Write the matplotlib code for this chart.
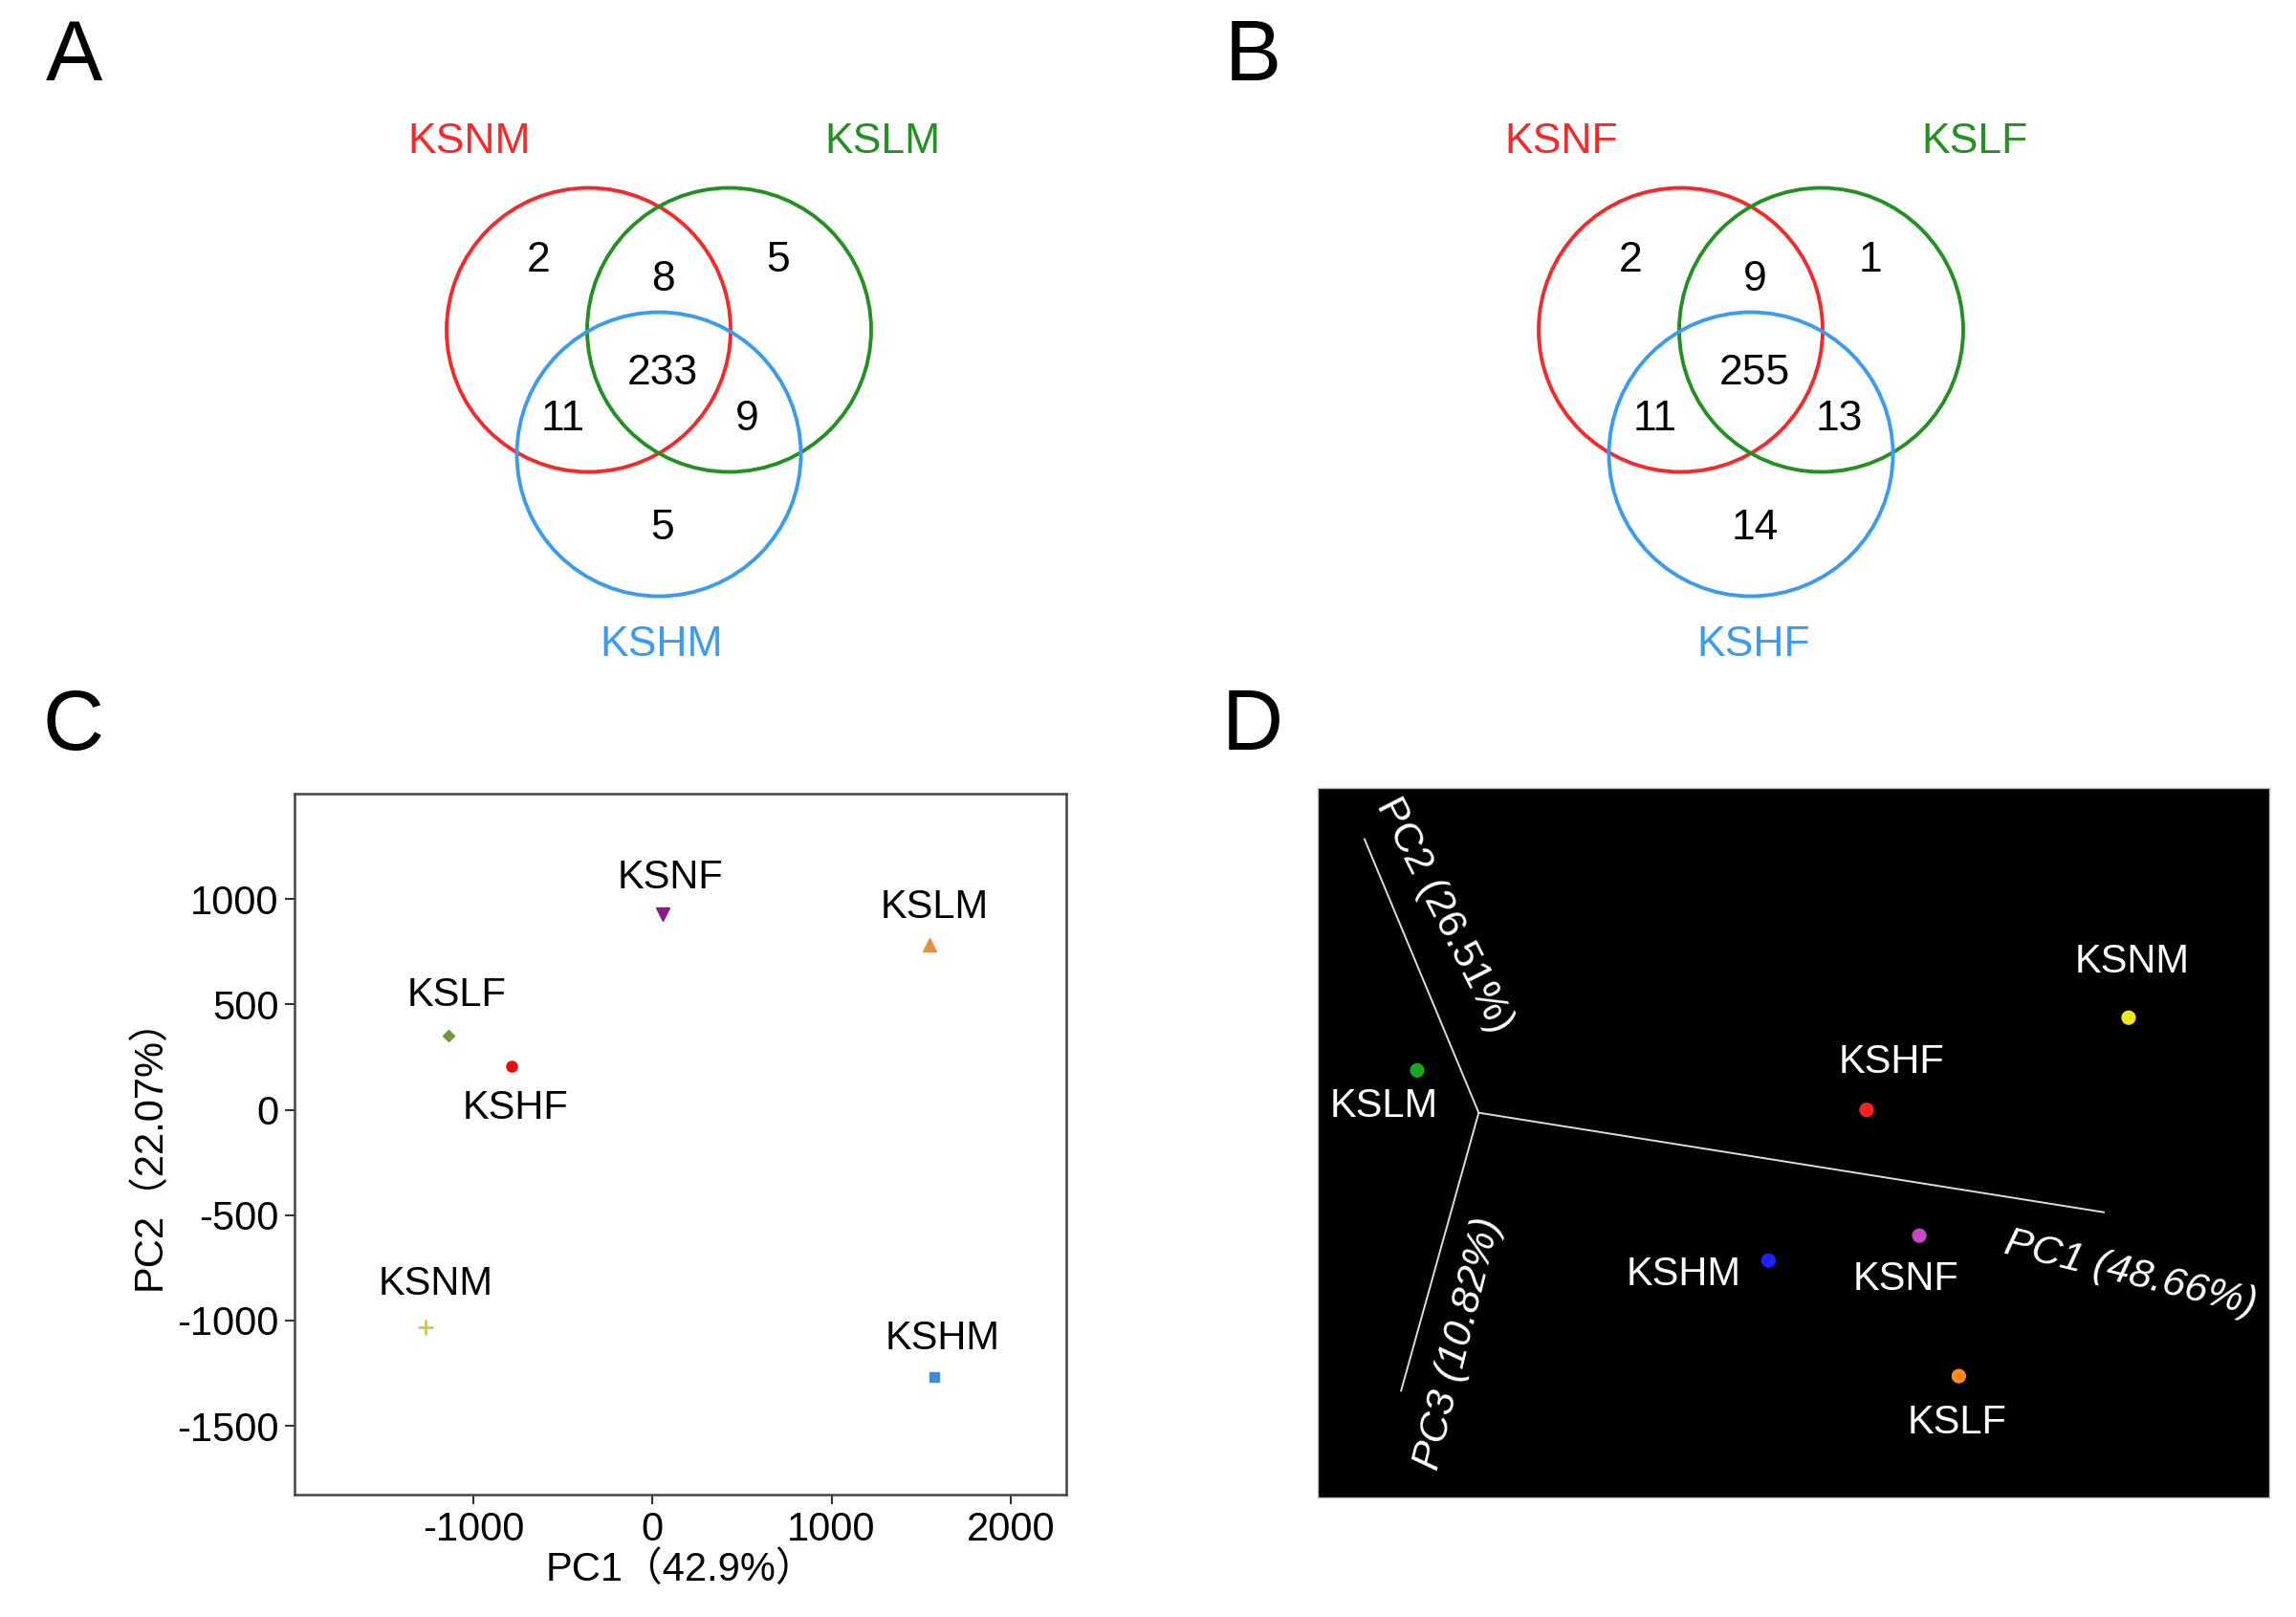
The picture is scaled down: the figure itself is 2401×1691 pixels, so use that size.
import numpy as np
import matplotlib
matplotlib.use('Agg')
from matplotlib import pyplot as plt
from matplotlib.patches import Circle

plt.rcParams['font.family'] = ['Liberation Sans', 'Noto Sans CJK SC', 'DejaVu Sans']
plt.rcParams['axes.unicode_minus'] = False

# ---- Venn data (A: male, B: female) ----
venn_a_names = ['KSNM', 'KSLM', 'KSHM']
venn_a_counts = [2, 5, 5, 8, 11, 9, 233]   # only1, only2, only3, 12, 13, 23, 123
venn_b_names = ['KSNF', 'KSLF', 'KSHF']
venn_b_counts = [2, 1, 14, 9, 11, 13, 255]
venn_colors = ['#f42a2a', '#229122', '#3a9bef']

# ---- PCA 2D (panel C) ----
pca_names = ['KSNF', 'KSLM', 'KSLF', 'KSHF', 'KSNM', 'KSHM']
pc1 = [54, 1546, -1139, -789, -1271, 1575]
pc2 = [926, 785, 354, 208, -1031, -1267]
pca_markers = ['v', '^', 'D', 'o', '+', 's']
pca_colors = ['#8a1a8a', '#e3943a', '#6f9a3a', '#e01010', '#cfc55a', '#3a8ed8']
pca_sizes = [10, 10, 6, 8, 12, 7]
pca_label_off = [(6, 28), (4, 28), (6, 30), (3, -32), (8, 32), (6, 29)]

# ---- PCA 3D projection (panel D), projected screen coordinates ----
d_names = ['KSLM', 'KSNM', 'KSHF', 'KSNF', 'KSHM', 'KSLF']
d_x = [68, 554, 375, 411, 308, 438]
d_y = [193, 157, 220, 306, 323, 402]
d_colors = ['#1ea51e', '#f0e81a', '#ff2020', '#c848c8', '#2020ff', '#ff8c1a']
d_label_off = [(-25, -27), (3, 42), (19, 36), (-10, -33), (-64, -11), (-1, -35)]
d_origin = (110, 222)
d_axis_ends = [(537, 290), (32, 35), (57, 412)]
d_axis_labels = ['PC1 (48.66%)', 'PC2 (26.51%)', 'PC3 (10.82%)']

W, H = 2401, 1691
fig = plt.figure(figsize=(W / 100, H / 100), dpi=100)

# background axes in pixel coordinates for Venn diagrams and panel letters
bg = fig.add_axes([0, 0, 1, 1])
bg.set_xlim(0, W)
bg.set_ylim(H, 0)
bg.axis('off')


def draw_venn(ax, cx, names, counts):
    r = 148.5
    centers = [(cx - 73.5, 345), (cx + 73.5, 345), (cx, 475)]
    for (x, y), c in zip(centers, venn_colors):
        ax.add_patch(Circle((x, y), r, fill=False, ec=c, lw=2.8))
    label_pos = [(cx - 198, 149), (cx + 234, 149), (cx + 3, 674)]
    for (x, y), n, c in zip(label_pos, names, venn_colors):
        ax.text(x, y, n, color=c, fontsize=32, ha='center', va='center')
    num_pos = [(-126, -115), (125, -115), (4, 165), (4, -96),
               (-100, 51), (92, 51), (4, 3)]
    for (dx, dy), v in zip(num_pos, counts):
        ax.text(cx + dx, 388 + dy, str(v), fontsize=32, ha='center', va='center')


draw_venn(bg, 689, venn_a_names, venn_a_counts)
draw_venn(bg, 1831, venn_b_names, venn_b_counts)

for letter, x, y in [('A', 77, 61), ('B', 1310, 61), ('C', 77, 761), ('D', 1310, 761)]:
    bg.text(x, y, letter, fontsize=64, ha='center', va='center')

# ---- panel C ----
axc = fig.add_axes([0.1283, 0.0757, 0.3361, 0.4335])
for x, y, m, c, s, n, off in zip(pc1, pc2, pca_markers, pca_colors, pca_sizes,
                                   pca_names, pca_label_off):
    axc.plot(x, y, marker=m, color=c, ms=s, mew=2 if m == '+' else 1, ls='none')
    axc.annotate(n, (x, y), xytext=off, textcoords='offset points',
                 ha='center', va='center', fontsize=30)
axc.set_xlim(-2000, 2311)
axc.set_ylim(-1826, 1500)
axc.set_xticks([-1000, 0, 1000, 2000])
axc.set_yticks([-1500, -1000, -500, 0, 500, 1000])
axc.tick_params(labelsize=30, length=7, width=1.5, color='#333333', pad=5)
for sp in axc.spines.values():
    sp.set_color('#444444')
    sp.set_linewidth(1.8)
axc.set_xlabel('PC1（42.9%）', fontsize=30, labelpad=2)
axc.set_ylabel('PC2（22.07%）', fontsize=30, labelpad=6)

# ---- panel D ----
axd = fig.add_axes([0.5739, 0.0739, 0.4144, 0.4388])
axd.set_facecolor('black')
axd.set_xlim(0, 650)
axd.set_ylim(485, 0)
axd.set_xticks([])
axd.set_yticks([])
for sp in axd.spines.values():
    sp.set_color('#bbbbbb')
    sp.set_linewidth(1)
for (ex, ey) in d_axis_ends:
    axd.plot([d_origin[0], ex], [d_origin[1], ey], color='#dddddd', lw=1.4)
axd.text(555, 332, d_axis_labels[0], color='white', fontsize=31, rotation=-14,
         style='italic', ha='center', va='center', rotation_mode='anchor')
axd.text(86, 87, d_axis_labels[1], color='white', fontsize=31, rotation=-63,
         ha='center', va='center', rotation_mode='anchor')
axd.text(96, 380, d_axis_labels[2], color='white', fontsize=31, rotation=76,
         style='italic', ha='center', va='center', rotation_mode='anchor')
axd.scatter(d_x, d_y, c=d_colors, s=120, edgecolors='none', zorder=3)
for x, y, n, off in zip(d_x, d_y, d_names, d_label_off):
    axd.annotate(n, (x, y), xytext=off, textcoords='offset points', color='white',
                 ha='center', va='center', fontsize=30)

fig.savefig('out.png', dpi=100)
